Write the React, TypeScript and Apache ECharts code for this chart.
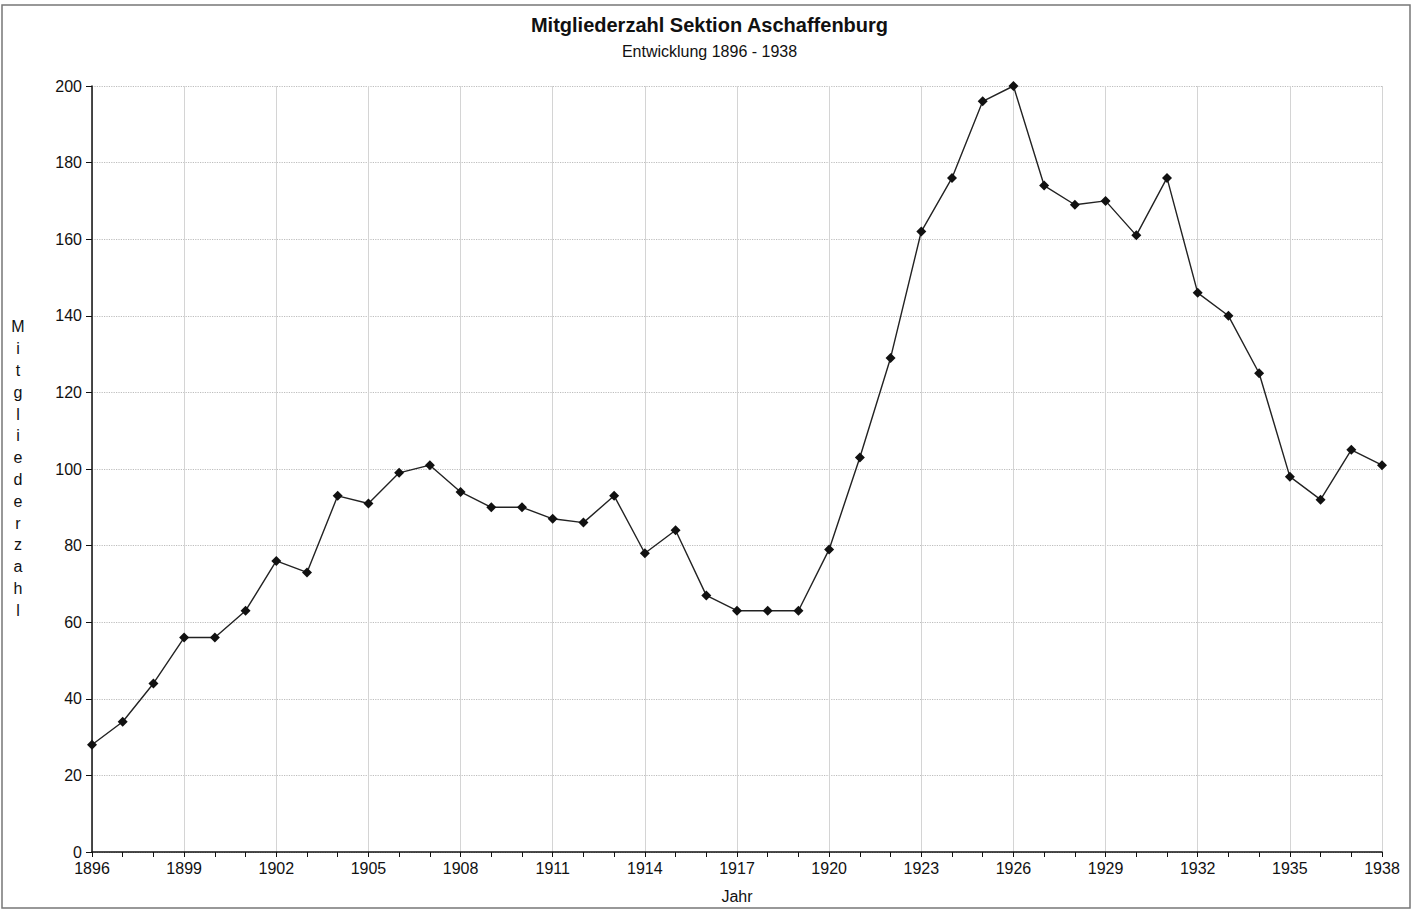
import React, { useEffect, useRef } from "react";
import * as echarts from "echarts";

const years: string[] = [
  "1896","1897","1898","1899","1900","1901","1902","1903","1904","1905",
  "1906","1907","1908","1909","1910","1911","1912","1913","1914","1915",
  "1916","1917","1918","1919","1920","1921","1922","1923","1924","1925",
  "1926","1927","1928","1929","1930","1931","1932","1933","1934","1935",
  "1936","1937","1938",
];
const members: number[] = [
  28, 34, 44, 56, 56, 63, 76, 73, 93, 91,
  99, 101, 94, 90, 90, 87, 86, 93, 78, 84,
  67, 63, 63, 63, 79, 103, 129, 162, 176, 196,
  200, 174, 169, 170, 161, 176, 146, 140, 125, 98,
  92, 105, 101,
];
const titleText = "Mitgliederzahl Sektion Aschaffenburg";
const subtitleText = "Entwicklung 1896 - 1938";
const yName = "Mitgliederzahl";
const xName = "Jahr";

export default function App() {
  const ref = useRef<HTMLDivElement>(null);
  useEffect(() => {
    if (!ref.current) return;
    const chart = echarts.init(ref.current, null, { renderer: "svg" });
    const font = "'Liberation Sans', Arial, sans-serif";
    chart.setOption({
      animation: false,
      backgroundColor: "#ffffff",
      textStyle: { fontFamily: font, color: "#111" },
      title: {
        text: titleText,
        subtext: subtitleText,
        left: "center",
        top: 10,
        itemGap: 8,
        textStyle: { fontFamily: font, fontSize: 20, fontWeight: "bold", color: "#111" },
        subtextStyle: { fontFamily: font, fontSize: 16, color: "#111" },
      },
      graphic: [
        {
          type: "rect",
          shape: { x: 2, y: 5, width: 1408, height: 903 },
          style: { fill: "none", stroke: "#777", lineWidth: 1.5 },
          silent: true,
        },
        {
          type: "text",
          x: 18,
          y: 316,
          style: {
            text: yName.split("").join("\n"),
            fontFamily: font,
            fontSize: 16,
            lineHeight: 21.8,
            fill: "#111",
            align: "center",
            verticalAlign: "top",
          },
        },
      ],
      grid: { left: 92, right: 37, top: 86, bottom: 60, containLabel: false },
      xAxis: {
        type: "category",
        data: years,
        boundaryGap: false,
        name: xName,
        nameLocation: "middle",
        nameGap: 36,
        nameTextStyle: { fontFamily: font, fontSize: 16, color: "#111" },
        axisLine: { lineStyle: { color: "#111", width: 1.5 } },
        axisTick: { show: true, interval: 0, length: 5, lineStyle: { color: "#111" } },
        axisLabel: { interval: 2, fontFamily: font, fontSize: 16, color: "#111", margin: 8 },
        splitLine: { show: true, interval: 2, lineStyle: { color: "#d4d4d4", width: 1 } },
      },
      yAxis: {
        type: "value",
        min: 0,
        max: 200,
        interval: 20,
        axisLine: { show: true, lineStyle: { color: "#111", width: 1.5 } },
        axisTick: { show: true, length: 6, lineStyle: { color: "#111" } },
        axisLabel: { fontFamily: font, fontSize: 16, color: "#111", margin: 10 },
        splitLine: { show: true, lineStyle: { color: "#bdbdbd", type: "dotted", width: 1.2 } },
      },
      series: [
        {
          type: "line",
          data: members,
          symbol: "diamond",
          symbolSize: 10,
          lineStyle: { color: "#222", width: 1.4 },
          itemStyle: { color: "#111" },
        },
      ],
    });
    return () => chart.dispose();
  }, []);
  return (
    <div
      ref={ref}
      style={{ position: "fixed", left: 0, top: 0, width: 1419, height: 912 }}
    />
  );
}
